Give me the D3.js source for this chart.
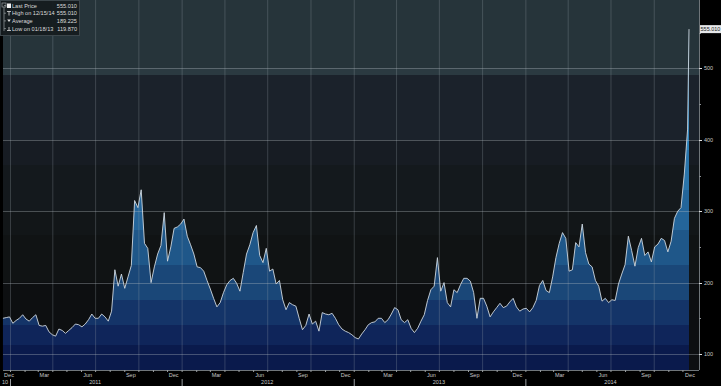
<!DOCTYPE html>
<html>
<head>
<meta charset="utf-8">
<script src="https://cdn.jsdelivr.net/npm/d3@7"></script>
<style>
  body { margin: 0; background: #000; }
  svg { display: block; font-family: "Liberation Sans", Arial, sans-serif; }
</style>
</head>
<body>
<div id="chart-area"></div>
<script>
const WIDTH = 721
const HEIGHT = 386
const PLOT = { LEFT: 3, RIGHT: 699, TOP: 0, BOTTOM: 370 }

// weekly closes, first one on 12/17/2010
const firstDate = new Date(2010, 11, 17)
const weeklyValues = [
  150, 151, 152, 143, 147, 150, 155, 149, 146, 151,
  155, 140, 139, 140, 131, 127, 125, 135, 133, 129,
  133, 137, 142, 141, 138, 142, 148, 156, 150, 150,
  156, 152, 146, 160, 218, 195, 212, 192, 208, 224,
  315, 305, 330, 255, 248, 200, 222, 240, 252, 298,
  230, 250, 276, 278, 282, 289, 265, 253, 240, 222,
  221, 216, 203, 191, 178, 166, 172, 186, 197, 203,
  206, 199, 188, 214, 240, 253, 270, 280, 238, 228,
  248, 216, 219, 198, 203, 176, 162, 172, 169, 167,
  150, 134, 140, 156, 142, 146, 132, 158, 156, 155,
  157, 150, 141, 135, 132, 130, 127, 123, 121, 128,
  134, 141, 144, 145, 150, 150, 144, 148, 156, 165,
  162, 148, 144, 148, 136, 130, 136, 146, 155, 175,
  190, 195, 235, 188, 200, 172, 166, 190, 186, 197,
  206, 206, 202, 186, 150, 178, 178, 167, 152, 159,
  165, 171, 165, 167, 173, 178, 166, 160, 163, 164,
  159, 165, 175, 196, 203, 189, 186, 208, 235, 255,
  270, 262, 216, 218, 256, 250, 282, 242, 226, 222,
  203, 195, 174, 178, 172, 176, 175, 198, 212, 225,
  265, 245, 223, 249, 262, 238, 243, 229, 250, 254,
  262, 259, 243, 258, 290, 300, 305, 352, 415
]
const lastDate = new Date(2014, 11, 15)
const lastPrice = 555.01

const yTicks = [100, 200, 300, 400, 500]
const yMinorTicks = [100, 150, 200, 250, 300, 350, 400, 450, 500, 550]
const years = [2011, 2012, 2013, 2014]
const legendLabels = ["Last Price", "High on 12/15/14", "Average", "Low on 01/18/13"]
const legendValues = ["555.010", "555.010", "189.225", "119.870"]

const data = weeklyValues.map((v, i) => ({ date: d3.timeDay.offset(firstDate, 7 * i), value: v }))
data.push({ date: lastDate, value: lastPrice })

const svg = d3.select("#chart-area").append("svg")
  .attr("width", WIDTH)
  .attr("height", HEIGHT)

svg.append("rect").attr("width", WIDTH).attr("height", HEIGHT).attr("fill", "#000")

const x = d3.scaleTime()
  .domain([new Date(2011, 0, 1), new Date(2015, 0, 1)])
  .range([10, 697])

const y = d3.scaleLinear()
  .domain([77.6, 595.8])
  .range([PLOT.BOTTOM, PLOT.TOP])

// banded gradients (stepped stops)
const defs = svg.append("defs")
function bands(id, list) {
  const grad = defs.append("linearGradient")
    .attr("id", id)
    .attr("gradientUnits", "userSpaceOnUse")
    .attr("x1", 0).attr("x2", 0).attr("y1", 0).attr("y2", PLOT.BOTTOM)
  list.forEach(b => {
    grad.append("stop").attr("offset", b[0] / PLOT.BOTTOM).attr("stop-color", b[2])
    grad.append("stop").attr("offset", b[1] / PLOT.BOTTOM).attr("stop-color", b[2])
  })
}
bands("bg", [
  [0, 68, "#26343a"], [68, 75, "#2b3a41"], [75, 140, "#1b222b"], [140, 165, "#171c23"],
  [165, 211, "#14191d"], [211, 235, "#121618"], [235, 282, "#101314"], [282, 370, "#0d0f11"]
])
bands("fill", [
  [0, 150, "#2d82ba"], [150, 190, "#2a74aa"], [190, 230, "#24659a"], [230, 265, "#1f5789"],
  [265, 300, "#1a4778"], [300, 325, "#143468"], [325, 345, "#0f255a"], [345, 370, "#0a1a4c"]
])

svg.append("rect")
  .attr("x", PLOT.LEFT).attr("y", PLOT.TOP)
  .attr("width", PLOT.RIGHT - PLOT.LEFT).attr("height", PLOT.BOTTOM - PLOT.TOP)
  .attr("fill", "url(#bg)")

// area + line
const area = d3.area()
  .x(d => x(d.date))
  .y0(PLOT.BOTTOM)
  .y1(d => y(d.value))

const line = d3.line()
  .x(d => x(d.date))
  .y(d => y(d.value))

svg.append("path").datum(data).attr("d", area).attr("fill", "url(#fill)")

// grid
const quarters = d3.timeMonth.every(3).range(new Date(2011, 0, 1), new Date(2015, 0, 1))
svg.append("g").selectAll("line")
  .data(quarters)
  .join("line")
    .attr("x1", d => x(d) + 0.5).attr("x2", d => x(d) + 0.5)
    .attr("y1", PLOT.TOP).attr("y2", PLOT.BOTTOM)
    .attr("stroke", "#9aa6ad").attr("stroke-opacity", 0.28)

svg.append("g").selectAll("line")
  .data(yTicks)
  .join("line")
    .attr("x1", PLOT.LEFT).attr("x2", PLOT.RIGHT)
    .attr("y1", d => Math.round(y(d)) + 0.5).attr("y2", d => Math.round(y(d)) + 0.5)
    .attr("stroke", "#b4bec4").attr("stroke-opacity", 0.35)

svg.append("path").datum(data)
  .attr("d", line)
  .attr("fill", "none")
  .attr("stroke", "#cfd8e0")
  .attr("stroke-width", 0.9)
  .attr("stroke-linejoin", "round")

// right axis
svg.append("line")
  .attr("x1", PLOT.RIGHT + 0.5).attr("x2", PLOT.RIGHT + 0.5)
  .attr("y1", 0).attr("y2", PLOT.BOTTOM)
  .attr("stroke", "#6f7579")

svg.append("g").selectAll("line")
  .data(yMinorTicks)
  .join("line")
    .attr("x1", PLOT.RIGHT).attr("x2", d => PLOT.RIGHT + (d % 100 === 0 ? 3 : 2))
    .attr("y1", d => Math.round(y(d)) + 0.5).attr("y2", d => Math.round(y(d)) + 0.5)
    .attr("stroke", d => d % 100 === 0 ? "#e0e0e0" : "#8a8f93")

svg.append("g").selectAll("text")
  .data(yTicks)
  .join("text")
    .attr("x", 704)
    .attr("y", d => y(d) + 2)
    .attr("font-size", "5.5px")
    .attr("fill", "#c8c8c8")
    .text(d => d)

// last price tag
const lastY = y(lastPrice)
svg.append("rect")
  .attr("x", 700).attr("y", lastY - 4)
  .attr("width", 21).attr("height", 8)
  .attr("fill", "#e6e8ea")
svg.append("text")
  .attr("x", 710.5).attr("y", lastY + 2)
  .attr("text-anchor", "middle")
  .attr("font-size", "5.5px")
  .attr("fill", "#1a1a1a")
  .text(lastPrice.toFixed(3))

// bottom axis
svg.append("line")
  .attr("x1", PLOT.LEFT).attr("x2", PLOT.RIGHT)
  .attr("y1", PLOT.BOTTOM + 0.5).attr("y2", PLOT.BOTTOM + 0.5)
  .attr("stroke", "#6f7579")

const months = d3.timeMonth.range(new Date(2011, 0, 1), new Date(2015, 0, 1))
svg.append("g").selectAll("line")
  .data(months)
  .join("line")
    .attr("x1", d => x(d) + 0.5).attr("x2", d => x(d) + 0.5)
    .attr("y1", PLOT.BOTTOM).attr("y2", PLOT.BOTTOM + 2)
    .attr("stroke", "#9a9ea2")

// month labels sit mid-month, left of the quarter lines
svg.append("g").selectAll("text")
  .data(quarters)
  .join("text")
    .attr("x", d => Math.max(9, x(new Date(d.getFullYear(), d.getMonth() - 1, 15))))
    .attr("y", 377)
    .attr("text-anchor", "middle")
    .attr("font-size", "5.5px")
    .attr("fill", "#c8c8c8")
    .text(d => d3.timeFormat("%b")(new Date(d.getFullYear(), d.getMonth() - 1, 15)))

svg.append("text")
  .attr("x", 690).attr("y", 377)
  .attr("text-anchor", "middle")
  .attr("font-size", "5.5px")
  .attr("fill", "#c8c8c8")
  .text("Dec")

svg.append("g").selectAll("text")
  .data(years)
  .join("text")
    .attr("x", d => x(new Date(d, 6, 1)))
    .attr("y", 384)
    .attr("text-anchor", "middle")
    .attr("font-size", "5.5px")
    .attr("fill", "#c8c8c8")
    .text(d => d)

svg.append("text")
  .attr("x", 5).attr("y", 384)
  .attr("text-anchor", "middle")
  .attr("font-size", "5.5px")
  .attr("fill", "#c8c8c8")
  .text("10")

svg.append("g").selectAll("line")
  .data(years)
  .join("line")
    .attr("x1", d => x(new Date(d, 0, 1)) + 0.5).attr("x2", d => x(new Date(d, 0, 1)) + 0.5)
    .attr("y1", 379).attr("y2", 386)
    .attr("stroke", "#9a9ea2")

// legend
const lg = svg.append("g")
lg.append("rect")
  .attr("x", 0.5).attr("y", 0.5).attr("width", 79).attr("height", 35)
  .attr("fill", "#151b1e").attr("fill-opacity", 0.92)
  .attr("stroke", "#3c464b")

lg.append("rect").attr("x", 2).attr("y", 3).attr("width", 4).attr("height", 4)
  .attr("fill", "none").attr("stroke", "#9aa0a4").attr("stroke-width", 0.7)
lg.append("line").attr("x1", 4).attr("x2", 4).attr("y1", 7).attr("y2", 31)
  .attr("stroke", "#9aa0a4").attr("stroke-width", 0.7)

legendLabels.forEach((label, i) => {
  const ly = 7.5 + i * 7.7
  lg.append("line").attr("x1", 4).attr("x2", 6).attr("y1", ly - 2).attr("y2", ly - 2)
    .attr("stroke", "#9aa0a4").attr("stroke-width", 0.7)
  lg.append("text")
    .attr("x", 12).attr("y", ly)
    .attr("font-size", "5.6px").attr("fill", "#dcdcdc")
    .text(label)
  lg.append("text")
    .attr("x", 77).attr("y", ly)
    .attr("text-anchor", "end")
    .attr("font-size", "5.6px").attr("fill", "#dcdcdc")
    .text(legendValues[i])
})
// legend icons
lg.append("rect").attr("x", 7).attr("y", 3.5).attr("width", 4).attr("height", 4.5).attr("fill", "#f2f2f2")
lg.append("path").attr("d", "M7,11.5H11M9,11.5V15.5").attr("stroke", "#e0e0e0").attr("stroke-width", 0.8).attr("fill", "none")
lg.append("path").attr("d", "M7.2,19.5H10.8L9,22Z").attr("fill", "#e0e0e0")
lg.append("path").attr("d", "M9,27V30.5M7,30.5H11").attr("stroke", "#e0e0e0").attr("stroke-width", 0.8).attr("fill", "none")
</script>
</body>
</html>
